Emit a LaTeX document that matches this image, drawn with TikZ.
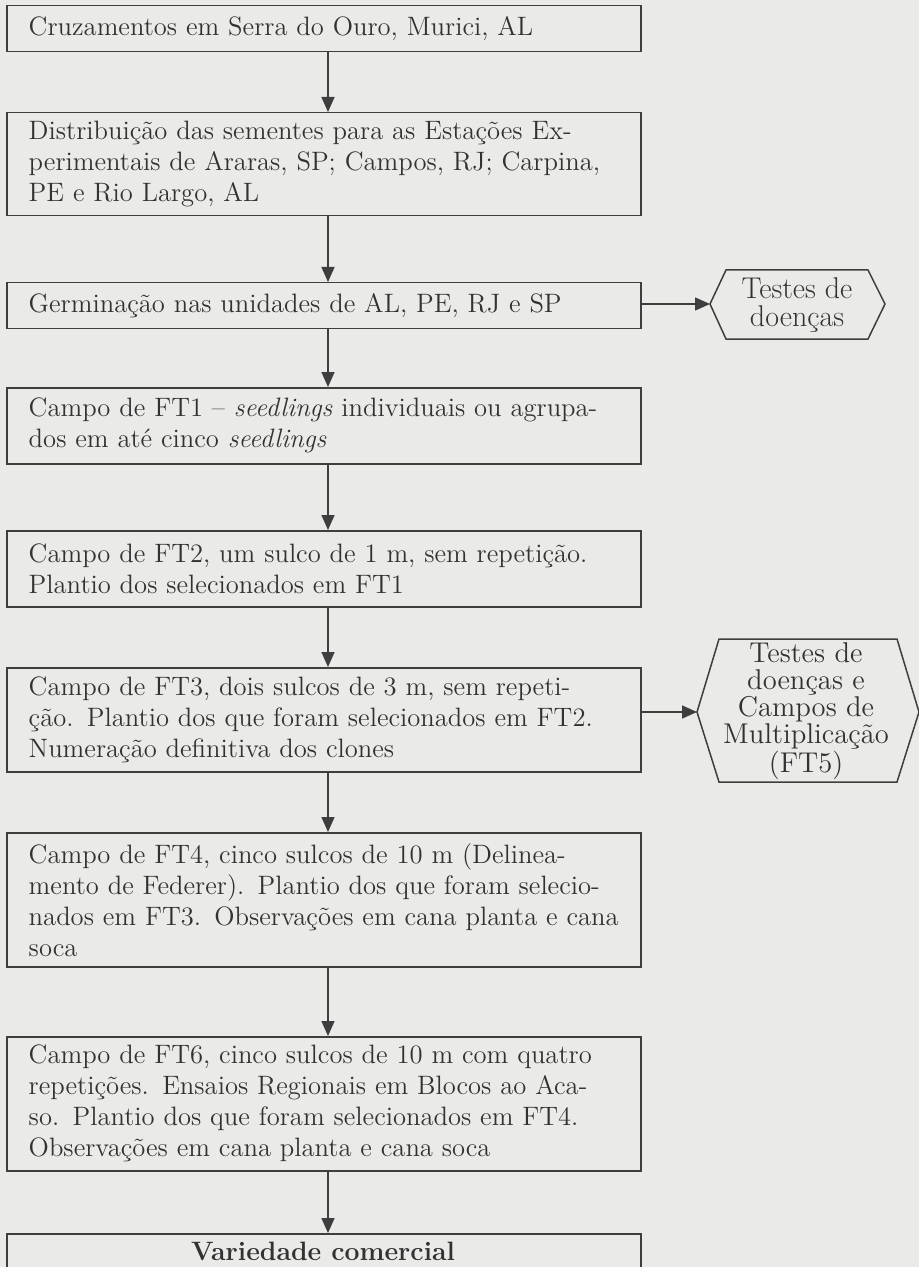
\documentclass[tikz,border=0pt]{standalone}
\usetikzlibrary{arrows.meta}
\definecolor{bg}{RGB}{234,234,232}
\definecolor{ln}{RGB}{62,62,62}
\definecolor{tx}{RGB}{50,50,50}
\newcommand{\JLine}[1]{\makebox[\linewidth][s]{#1}}
\begin{document}
\begin{tikzpicture}[x=0.5pt,y=-0.5pt,
  box/.style={draw=ln, line width=0.75pt, rectangle, anchor=north west,
    minimum width=317pt, text width=295pt, inner xsep=11pt, inner ysep=0pt,
    align=left, font=\fontsize{13.3}{15.5}\selectfont, text=tx},
  arr/.style={draw=ln, line width=0.75pt, -{Triangle[length=7.5pt,width=6.5pt]}},
  hexline/.style={draw=ln, line width=0.75pt},
  hextext/.style={align=center, text=tx, inner sep=0pt}]
\fill[bg] (0,0) rectangle (919,1267);
\useasboundingbox (0,0) rectangle (919,1267);
\clip (0,0) rectangle (919,1267);

\node[box, minimum height=23pt] (b1) at (6,5) {Cruzamentos em Serra do Ouro, Murici, AL};
\node[box, minimum height=51.5pt] (b2) at (6,112) {\JLine{Distribuição das sementes para as Estações Ex-}\\\JLine{perimentais de Araras, SP; Campos, RJ; Carpina,}\\PE e Rio Largo, AL};
\node[box, minimum height=23pt] (b3) at (6,282) {Germinação nas unidades de AL, PE, RJ e SP};
\node[box, minimum height=38pt] (b4) at (6,387) {\JLine{Campo de FT1 -- \emph{seedlings} individuais ou agrupa-}\\dos em até cinco \emph{seedlings}};
\node[box, minimum height=38pt] (b5) at (6,530) {Campo de FT2, um sulco de 1 m, sem repetição.\\Plantio dos selecionados em FT1};
\node[box, minimum height=52pt] (b6) at (6,667) {\JLine{Campo de FT3, dois sulcos de 3 m, sem repeti-}\\\JLine{ção. Plantio dos que foram selecionados em FT2.}\\Numeração definitiva dos clones};
\node[box, minimum height=67pt] (b7) at (6,832) {\JLine{Campo de FT4, cinco sulcos de 10 m (Delinea-}\\\JLine{mento de Federer). Plantio dos que foram selecio-}\\\JLine{nados em FT3. Observações em cana planta e cana}\\soca};
\node[box, minimum height=67pt] (b8) at (6,1036) {\JLine{Campo de FT6, cinco sulcos de 10 m com quatro}\\\JLine{repetições. Ensaios Regionais em Blocos ao Aca-}\\\JLine{so. Plantio dos que foram selecionados em FT4.}\\Observações em cana planta e cana soca};
\node[box, minimum height=40pt] (b9) at (6,1233) {};
\node[text=tx, font=\fontsize{13.3}{15.5}\selectfont\bfseries, inner sep=0pt] (b9t) at (323,1251) {Variedade comercial};

\foreach \a/\b in {b1/b2,b2/b3,b3/b4,b4/b5,b5/b6,b6/b7,b7/b8,b8/b9}
  \draw[arr] (\a.south -| 328,0) -- (\b.north -| 328,0);

% hexagon 1
\draw[hexline] (710,304) -- (726,270) -- (868,270) -- (885,304) -- (868,339) -- (726,339) -- cycle;
\coordinate (h1w) at (710,304);
\node[hextext, font=\fontsize{15}{14}\selectfont] (h1) at (797,305) {Testes de\\doenças};
\draw[arr] (b3.east |- h1w) -- (h1w);

% hexagon 2
\draw[hexline] (697,712) -- (719,639) -- (897,639) -- (919,712) -- (897,782) -- (719,782) -- cycle;
\coordinate (h2w) at (697,712);
\node[hextext, font=\fontsize{14.3}{13.5}\selectfont] (h2) at (806,711) {Testes de\\doenças e\\Campos de\\Multiplicação\\(FT5)};
\draw[arr] (b6.east |- h2w) -- (h2w);
\end{tikzpicture}
\end{document}
